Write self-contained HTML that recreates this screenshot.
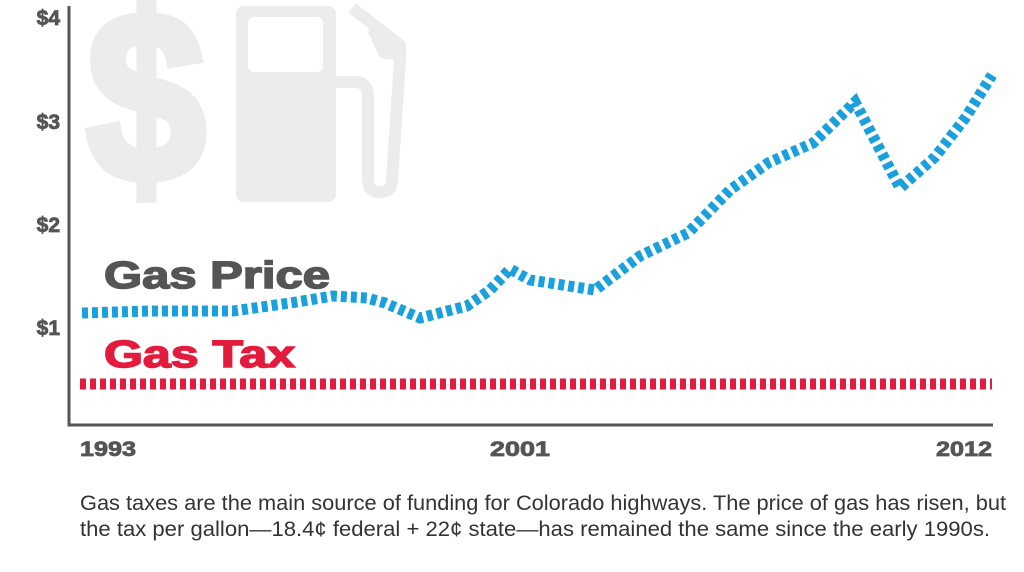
<!DOCTYPE html>
<html><head><meta charset="utf-8"><style>
html,body{margin:0;padding:0;background:#fff;width:1024px;height:572px;overflow:hidden}
</style></head><body>
<svg width="1024" height="572" viewBox="0 0 1024 572" xmlns="http://www.w3.org/2000/svg">
<g fill="#ececec">
<text x="146" y="180" font-family="Liberation Sans, sans-serif" font-weight="bold" font-size="240" text-anchor="middle" textLength="118" lengthAdjust="spacingAndGlyphs" stroke="#ececec" stroke-width="10">$</text>
<rect x="236" y="6" width="100" height="196" rx="8"/>
<path d="M335 82 H355 Q368 82 368 96 V180 Q368 192 380 192 Q392 192 392 180 L400 60 V45 L352 8" fill="none" stroke="#ececec" stroke-width="12" stroke-linejoin="round"/>
<path d="M372 22 L393 45 L395 60 L380 58 L368 32 Z"/>
</g>
<rect x="248" y="17" width="75" height="55" rx="6" fill="#fff"/>
<path d="M69 6 V425 H993" fill="none" stroke="#555" stroke-width="3"/>
<g font-family="Liberation Sans, sans-serif" font-weight="bold" font-size="21" fill="#555" text-anchor="end" stroke="#555" stroke-width="0.8">
<text x="60" y="25">$4</text>
<text x="60" y="129">$3</text>
<text x="60" y="232">$2</text>
<text x="60" y="335">$1</text>
</g>
<g font-family="Liberation Sans, sans-serif" font-weight="bold" font-size="21" fill="#555" stroke="#555" stroke-width="0.8">
<text x="80" y="456" textLength="56" lengthAdjust="spacingAndGlyphs">1993</text>
<text x="490" y="456" textLength="60" lengthAdjust="spacingAndGlyphs">2001</text>
<text x="936" y="456" textLength="56" lengthAdjust="spacingAndGlyphs">2012</text>
</g>
<text x="104" y="288" font-family="Liberation Sans, sans-serif" font-weight="bold" font-size="38" fill="#555" stroke="#555" stroke-width="1.5" textLength="226" lengthAdjust="spacingAndGlyphs">Gas Price</text>
<text x="104" y="367" font-family="Liberation Sans, sans-serif" font-weight="bold" font-size="38" fill="#e31b3c" stroke="#e31b3c" stroke-width="1.5" textLength="191" lengthAdjust="spacingAndGlyphs">Gas Tax</text>
<line x1="80" y1="384" x2="992" y2="384" stroke="#e31b3c" stroke-width="11" stroke-dasharray="6 4"/>
<polyline points="82,313 150,311 233,311 290,303 333,296 367,298 385,303 420,318 467,306 490,290 510,269 530,280 595,290 640,256 688,233 730,190 768,163 813,143 855,102 900,188 935,157 966,117 992,75" fill="none" stroke="#1aa0dc" stroke-width="11" stroke-dasharray="6 4"/>
<g font-family="Liberation Sans Narrow, Liberation Sans, sans-serif" font-size="21" fill="#333">
<text x="80" y="510" textLength="926" lengthAdjust="spacingAndGlyphs">Gas taxes are the main source of funding for Colorado highways. The price of gas has risen, but</text>
<text x="80" y="536" textLength="910" lengthAdjust="spacingAndGlyphs">the tax per gallon—18.4¢ federal + 22¢ state—has remained the same since the early 1990s.</text>
</g>
</svg>
</body></html>
